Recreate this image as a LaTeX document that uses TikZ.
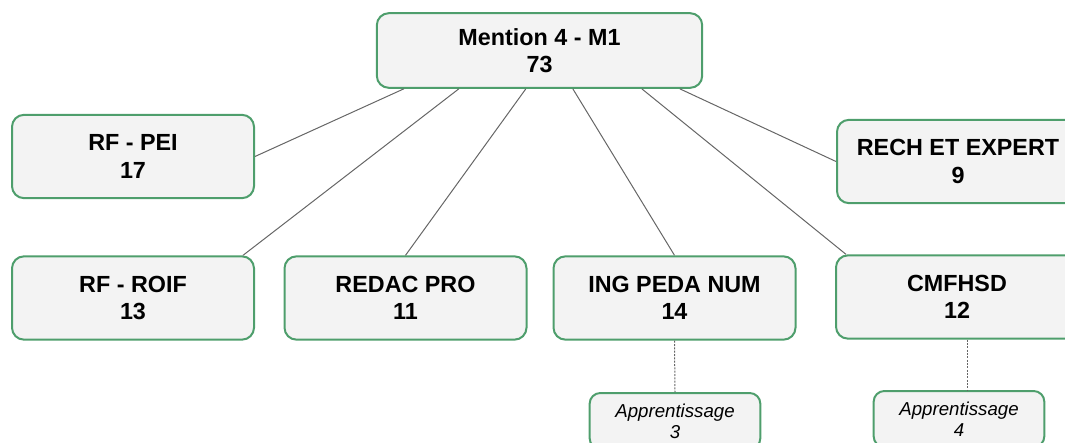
\documentclass[tikz,border=0pt]{standalone}
\usepackage{fontspec}
\setmainfont{Liberation Sans}
\usepackage{tikz}
\usetikzlibrary{calc}
\definecolor{boxgreen}{HTML}{4E9E6C}
\definecolor{boxfill}{HTML}{F3F3F3}
\definecolor{linkgray}{HTML}{666666}

\begin{document}
\begin{tikzpicture}[x=0.75pt,y=-0.75pt]
                \tikzstyle{box}=[rectangle, rounded corners=9pt, draw=boxgreen, fill=boxfill, line width=1.5pt, minimum width=181.5pt, minimum height=62.5pt, inner sep=0pt, align=center, font=\fontsize{17.5}{20.7}\selectfont\bfseries]
                \tikzstyle{sub}=[rectangle, rounded corners=8pt, draw=boxgreen, fill=boxfill, line width=1.5pt, minimum width=128pt, minimum height=42pt, inner sep=0pt, align=center, font=\fontsize{14}{16}\selectfont\itshape]
                \tikzstyle{edge} = [draw, line width=0.75pt, linkgray, -]
                \tikzstyle{link} = [draw, line width=0.75pt, linkgray, dash pattern=on 1.5pt off 1pt, -]

                \useasboundingbox (0,0) rectangle (1065,443);

                \node[box, minimum width=244pt, minimum height=56pt] (top) at (539.5,50.5) {Mention 4 - M1\\73};
                \node[box] (pei) at (133,156.5) {RF - PEI\\17};
                \node[box] (rech) at (958,161.5) {RECH ET EXPERT\\9};
                \node[box] (roif) at (133,298) {RF - ROIF\\13};
                \node[box] (redac) at (405.5,298) {REDAC PRO\\11};
                \node[box] (ing) at (674.5,298) {ING PEDA NUM\\14};
                \node[box] (cmf) at (957,297) {CMFHSD\\12};
                \node[sub] (ap3) at (675,421) {Apprentissage\\3};
                \node[sub] (ap4) at (959,419) {Apprentissage\\4};

                % lines from the top box
                \path[edge] ($(top.south west)+(28,0)$) -- (pei.east);
                \path[edge] ($(top.south west)+(83,0)$) -- ($(roif.north east)+(-12,0)$);
                \path[edge] ($(top.south west)+(150,0)$) -- (redac.north);
                \path[edge] ($(top.south west)+(197,0)$) -- (ing.north);
                \path[edge] ($(top.south west)+(266,0)$) -- ($(cmf.north west)+(11,0)$);
                \path[edge] ($(top.south west)+(304,0)$) -- (rech.west);

                \path[link] (ing.south) -- (ap3.north);
                \path[link] ($(cmf.south)+(10,0)$) -- ($(ap4.north)+(8,0)$);
            \end{tikzpicture}
\end{document}
